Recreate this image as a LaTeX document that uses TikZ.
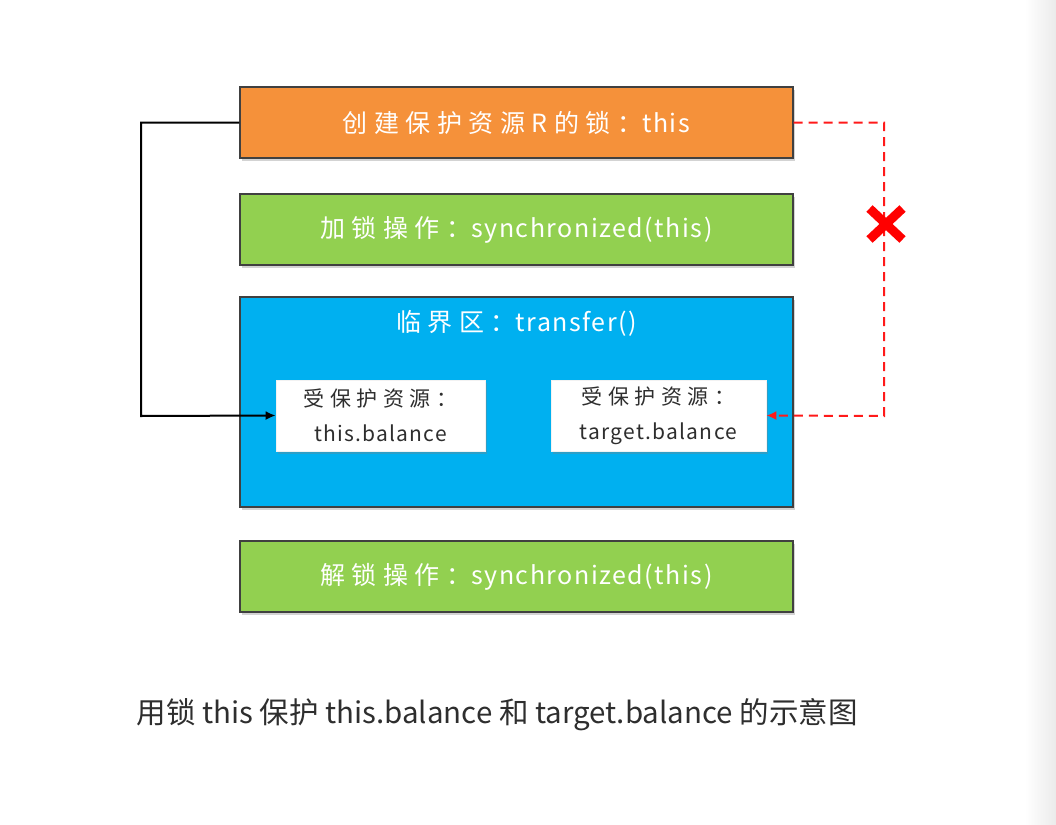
\documentclass[tikz,border=0pt]{standalone}
\usepackage{fontspec}
\setmainfont{Noto Sans CJK SC}
\usetikzlibrary{arrows.meta,shadows,shapes.misc}
\definecolor{orangebox}{HTML}{F5913A}
\definecolor{greenbox}{HTML}{92D050}
\definecolor{bluebox}{HTML}{00B0F0}
\definecolor{redline}{HTML}{FF1A1A}
\definecolor{captiongray}{HTML}{2E2E2E}
\newcommand\cjsp[1]{{\addfontfeatures{LetterSpace=26}#1}}
\newcommand\ltsp[1]{{\addfontfeatures{LetterSpace=6}#1}}
\tikzset{
  bigbox/.style={draw=black!75, line width=1.2pt, minimum width=553pt, minimum height=71pt,
    text=white, font=\fontsize{25}{30}\selectfont, drop shadow={shadow xshift=2pt, shadow yshift=-3pt, opacity=0.35}},
  resbox/.style={draw=white!90!gray, fill=white, line width=0.6pt, minimum height=71pt, align=center,
    text=black!82, font=\fontsize{21}{35}\selectfont, drop shadow={shadow xshift=2pt, shadow yshift=-3pt, opacity=0.35}},
  conn/.style={line width=2pt},
}
\begin{document}
\begin{tikzpicture}[x=1pt,y=-1pt]
\useasboundingbox (0,0) rectangle (1056,824);
\shade[left color=white, right color=black!8] (1025,0) rectangle (1056,824);
% boxes
\node[bigbox, fill=orangebox] (lock) at (516.5,122.5) {\cjsp{创建保护资源R的锁：}\ltsp{this}};
\node[bigbox, fill=greenbox] (acq) at (516.5,229.5) {\cjsp{加锁操作：}\ltsp{synchronized(this)}};
\node[bigbox, fill=bluebox, minimum height=210pt] (crit) at (516.5,402) {};
\node[text=white, font=\fontsize{25}{30}\selectfont] (crittitle) at (516.5,323) {\cjsp{临界区：}\ltsp{transfer()}};
\node[bigbox, fill=greenbox] (rel) at (516.5,576.5) {\cjsp{解锁操作：}\ltsp{synchronized(this)}};
\node[resbox, minimum width=209pt] (res1) at (380.5,415.5) {\cjsp{受保护资源：}\\\ltsp{this.balance}};
\node[resbox, minimum width=215pt] (res2) at (658.5,415.5) {\cjsp{受保护资源：}\\\ltsp{target.balance}};
% connectors
\coordinate (bl1) at (141,122.5);
\coordinate (bl2) at (141,416);
\draw[conn, -{Latex[length=10pt,width=9pt]}] (lock.west) -- (bl1) -- (bl2) -- (res1.west);
\coordinate (rd1) at (884,122.5);
\coordinate (rd2) at (884,416);
\draw[conn, redline, dash pattern=on 9pt off 6pt, -{Latex[length=10pt,width=9pt]}] (lock.east) -- (rd1) -- (rd2) -- (res2.east);
\node[cross out, draw=red, line width=9pt, minimum width=24pt, minimum height=22pt, inner sep=0pt] (cross) at (886,224) {};
% caption
\node[text=captiongray, font=\fontsize{29.5}{34}\selectfont, anchor=west] (caption) at (133,715) {用锁 this 保护 this.balance 和 target.balance 的示意图};
\end{tikzpicture}
\end{document}
